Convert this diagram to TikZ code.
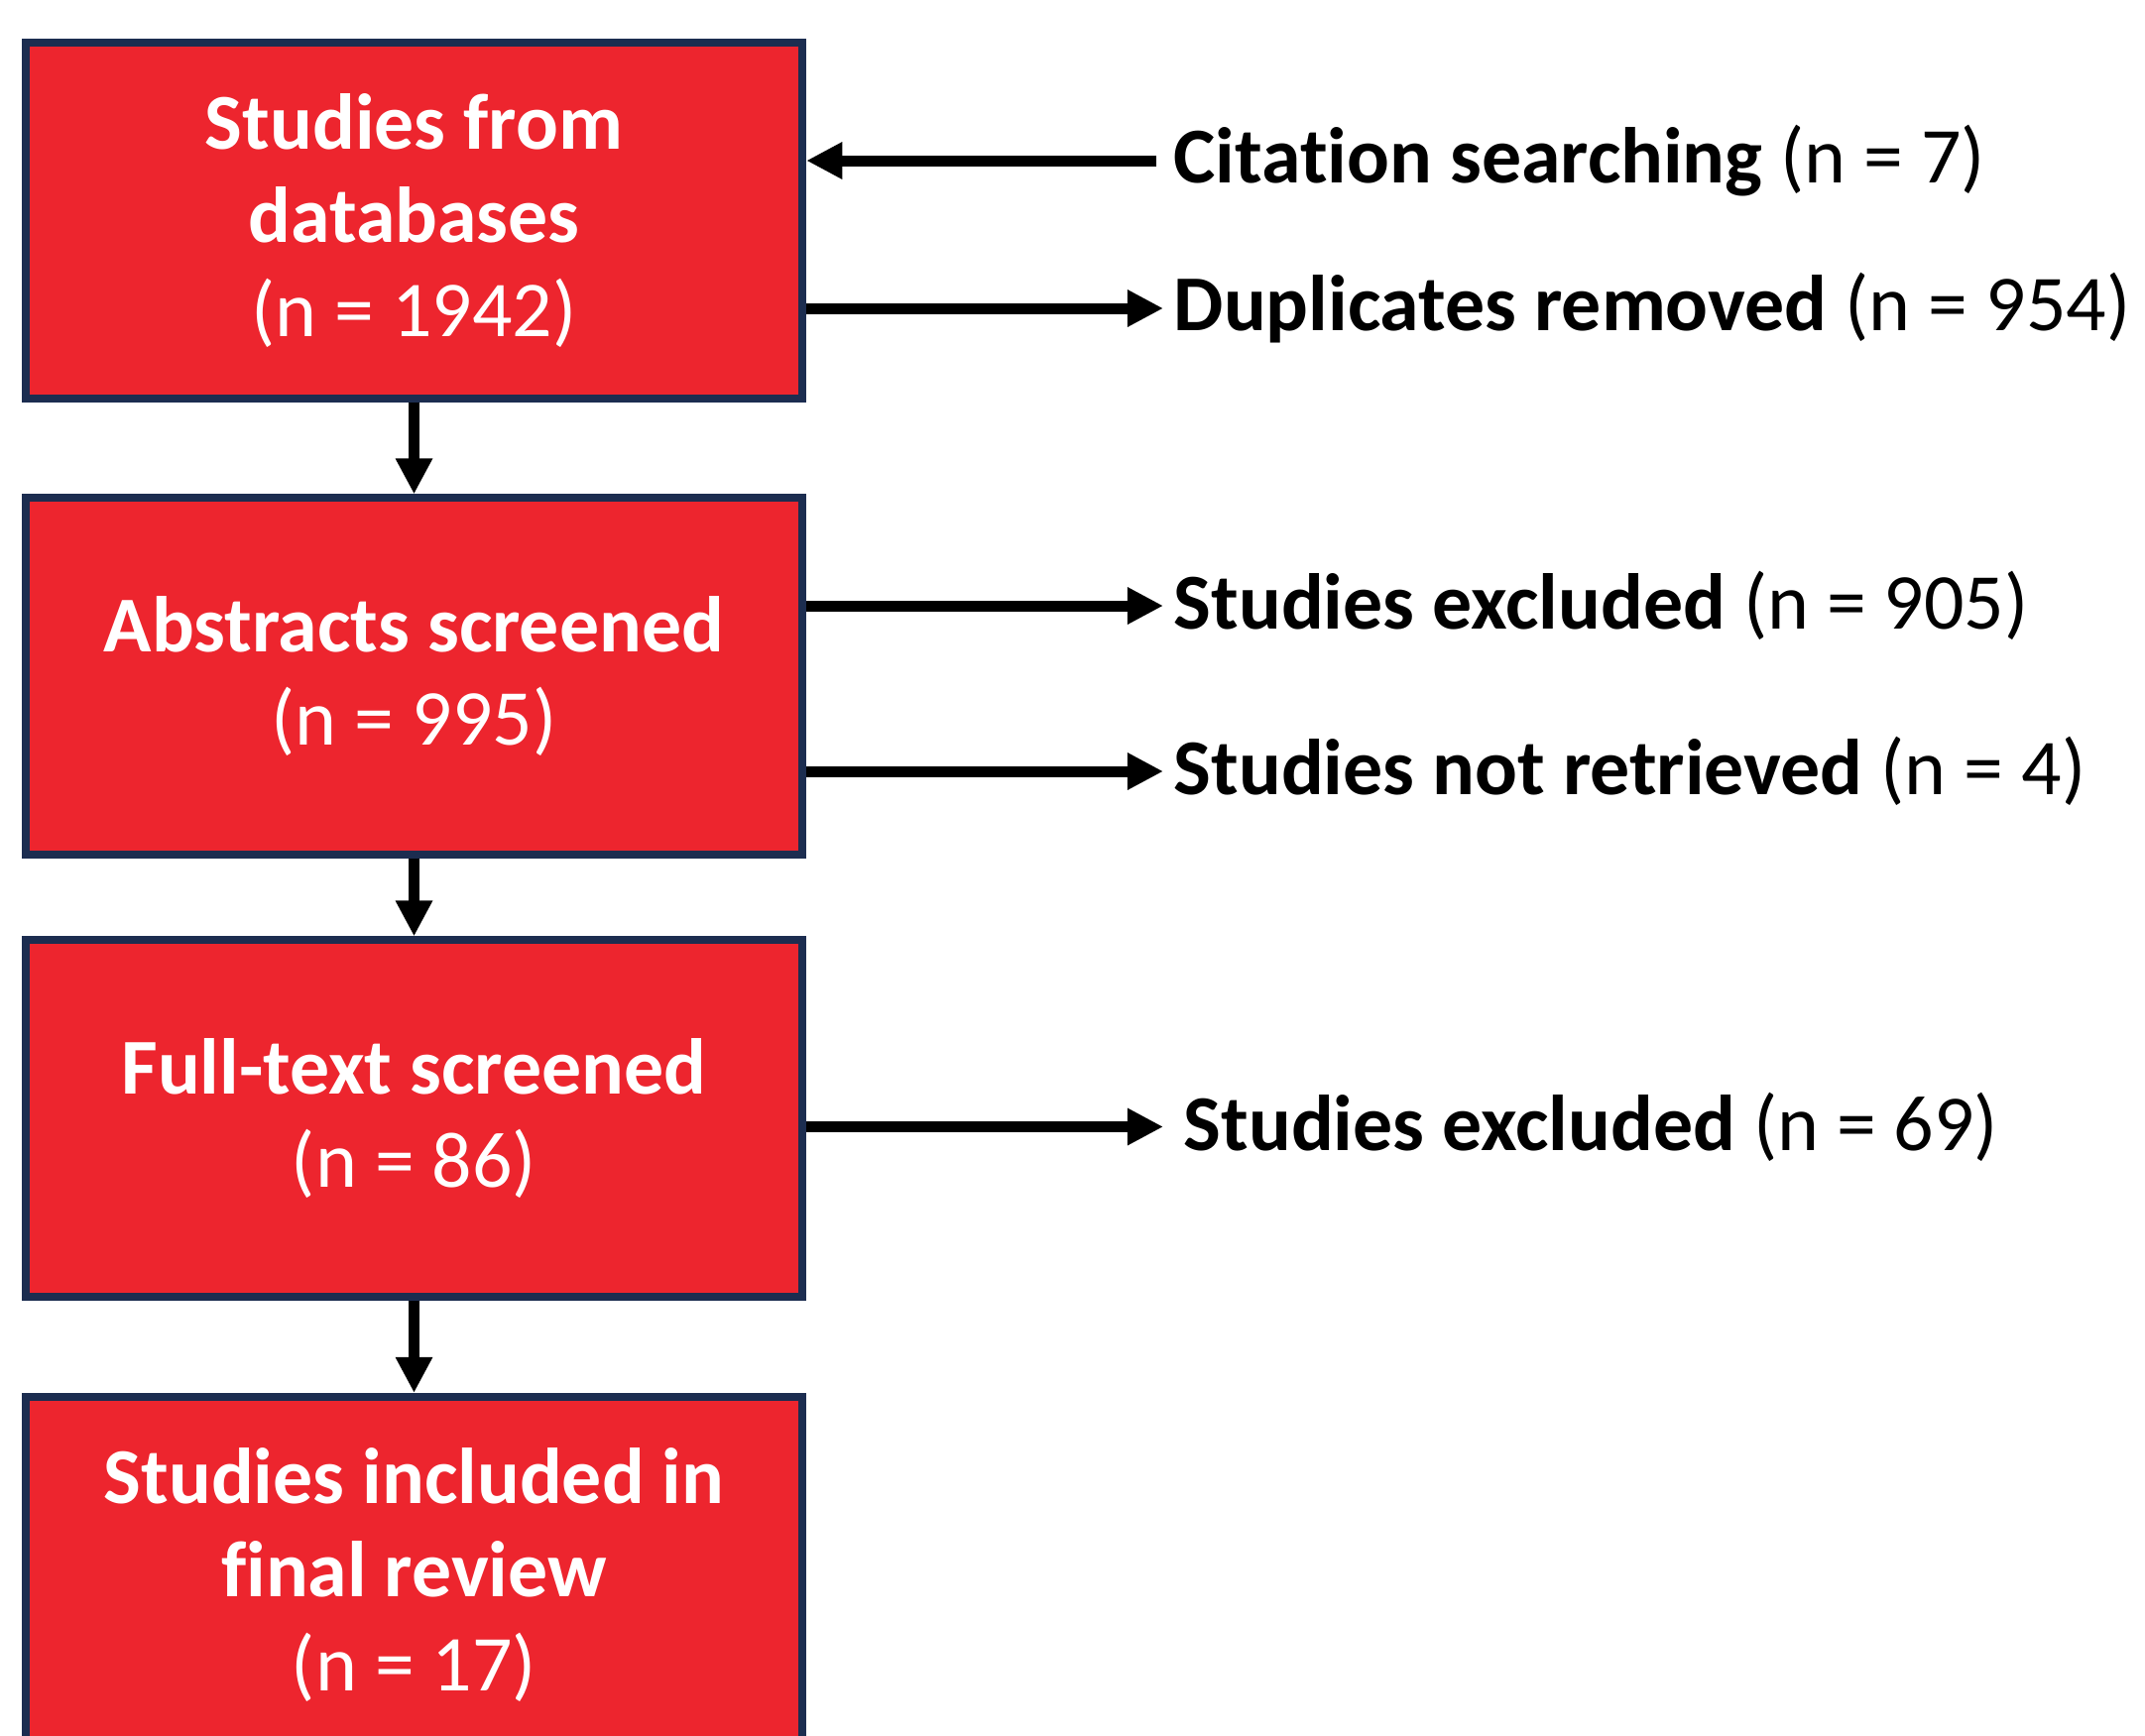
\documentclass[tikz,border=0pt]{standalone}
\usepackage{fontspec}
\setmainfont[Ligatures={NoCommon}]{Carlito}
\usetikzlibrary{arrows.meta}

\definecolor{boxred}{HTML}{ED252E}
\definecolor{boxnavy}{HTML}{1C2D50}

\begin{document}
\begin{tikzpicture}[x=0.01cm,y=-0.01cm,
    stagebox/.style={draw=boxnavy, fill=boxred, line width=0.08cm,
        minimum width=7.83cm, minimum height=3.59cm, inner sep=0pt,
        align=center, text=white, font=\fontsize{22.7}{27}\selectfont},
    sidelabel/.style={anchor=west, inner ysep=0pt, inner xsep=0.1cm,
        font=\fontsize{22.7}{27}\selectfont},
    flowarrow/.style={line width=0.11cm, -{Triangle[length=0.36cm,width=0.35cm]}}]
    \def\midx{417.5}  % Centre of the stage boxes
    \def\labx{1173}   % Where the side arrows end

    \useasboundingbox (0,0) rectangle (2163,1751);

    % Draw the stages
    \node[stagebox] (databases) at (\midx,222.5) {\textbf{Studies from}\\\textbf{databases}\\(n = 1942)};
    \node[stagebox] (abstracts) at (\midx,682) {\textbf{Abstracts screened}\\(n = 995)};
    \node[stagebox] (fulltext) at (\midx,1128) {\textbf{Full-text screened}\\(n = 86)};
    \node[stagebox] (included) at (\midx,1588.5) {\textbf{Studies included in}\\\textbf{final review}\\(n = 17)};

    % Draw the side labels
    \node[sidelabel] (citation) at (\labx,162) {\textbf{Citation searching} (n = 7)};
    \node[sidelabel] (duplicates) at (\labx,311) {\textbf{Duplicates removed} (n = 954)};
    \node[sidelabel] (excluded) at (\labx,611) {\textbf{Studies excluded} (n = 905)};
    \node[sidelabel] (retrieved) at (\labx,778) {\textbf{Studies not retrieved} (n = 4)};
    \node[sidelabel, inner xsep=0.2cm] (excludedft) at (\labx,1136.5) {\textbf{Studies excluded} (n = 69)};

    % Draw the arrows down the flow
    \draw[flowarrow] (databases) -- (abstracts);
    \draw[flowarrow] (abstracts) -- (fulltext);
    \draw[flowarrow] (fulltext) -- (included);

    % Draw the arrows to the side
    \draw[flowarrow] ([xshift=-0.07cm]citation.west) -- (databases.east |- citation.west);
    \draw[flowarrow] (databases.east |- duplicates.west) -- (duplicates.west);
    \draw[flowarrow] (abstracts.east |- excluded.west) -- (excluded.west);
    \draw[flowarrow] (abstracts.east |- retrieved.west) -- (retrieved.west);
    \draw[flowarrow] (fulltext.east |- excludedft.west) -- (excludedft.west);
\end{tikzpicture}
\end{document}
